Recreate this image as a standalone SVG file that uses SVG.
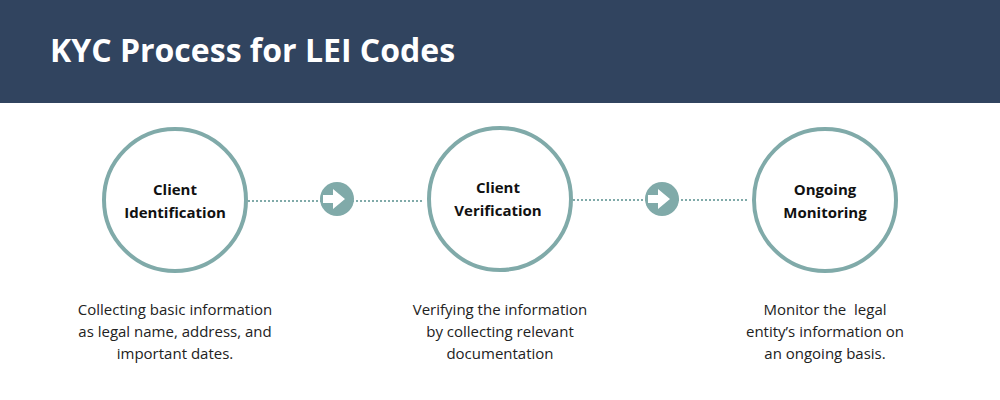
<svg xmlns="http://www.w3.org/2000/svg" width="1000" height="400" viewBox="0 0 1000 400">
<style>
.ring{fill:#fff;stroke:#80aaa9;stroke-width:4}
.lbl{font-family:"Open Sans",sans-serif;font-weight:bold;font-size:15px;fill:#111;text-anchor:middle}
.desc{font-family:"Open Sans",sans-serif;font-size:15px;fill:#222;text-anchor:middle}
.dot{stroke:#80aaa9;stroke-width:2;stroke-dasharray:2 2}
</style>
<rect x="0" y="0" width="1000" height="103" fill="#31445f"/>
<text x="50" y="62" font-family="'Open Sans',sans-serif" font-weight="bold" font-size="32" fill="#fff">KYC Process for LEI Codes</text>
<g id="connectors">
<line class="dot" x1="248" y1="201" x2="422" y2="201"/>
<line class="dot" x1="573" y1="200" x2="748" y2="200"/>
<g id="arrow1"><circle cx="337" cy="199" r="17" fill="#80aaa9"/><path d="M323 195h10v-6l12 10-12 10v-6h-10z" fill="#fff"/></g>
<g id="arrow2"><circle cx="662" cy="199" r="17" fill="#80aaa9"/><path d="M648 195h10v-6l12 10-12 10v-6h-10z" fill="#fff"/></g>
</g>
<g id="node1"><circle class="ring" cx="175" cy="200" r="71"/>
<text class="lbl" x="175" y="195">Client</text><text class="lbl" x="175" y="218">Identification</text>
<text class="desc" x="175" y="315">Collecting basic information</text><text class="desc" x="175" y="337">as legal name, address, and</text><text class="desc" x="175" y="359">important dates.</text></g>
<g id="node2"><circle class="ring" cx="500" cy="199" r="71"/>
<text class="lbl" x="498" y="193">Client</text><text class="lbl" x="498" y="216">Verification</text>
<text class="desc" x="500" y="315">Verifying the information</text><text class="desc" x="500" y="337">by collecting relevant</text><text class="desc" x="500" y="359">documentation</text></g>
<g id="node3"><circle class="ring" cx="825" cy="200" r="71"/>
<text class="lbl" x="825" y="195">Ongoing</text><text class="lbl" x="825" y="218">Monitoring</text>
<text class="desc" x="825" y="315" xml:space="preserve">Monitor the  legal</text><text class="desc" x="825" y="337">entity’s information on</text><text class="desc" x="825" y="359">an ongoing basis.</text></g>
</svg>
